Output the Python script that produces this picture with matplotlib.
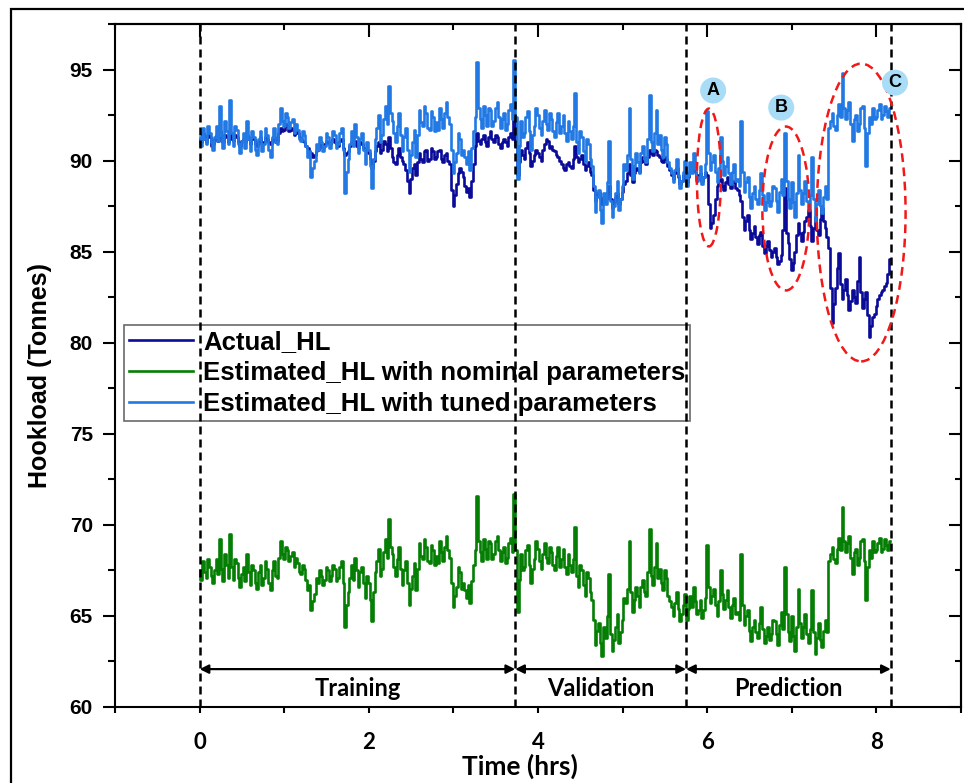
import numpy as np
import matplotlib
matplotlib.use("Agg")
import matplotlib.pyplot as plt
from matplotlib.patches import Ellipse, Rectangle
from matplotlib.ticker import MultipleLocator

# Sampling interval of the hookload records (hours)
SAMPLE_STEP_HRS = 0.02

# Measured hookload (tonnes)
actual_hl = [
    91.2, 91.0, 91.5, 91.2, 91.0, 91.4, 91.3, 90.8, 90.9, 91.2, 91.4, 91.1, 91.6, 91.3, 91.0, 91.4, 91.3, 91.0, 91.5, 91.2,
    91.1, 91.4, 91.3, 91.0, 90.8, 91.1, 91.2, 91.0, 91.4, 91.2, 90.9, 91.3, 91.2, 90.9, 90.8, 91.1, 91.3, 90.9, 91.0, 91.3,
    91.2, 91.0, 90.9, 91.2, 91.3, 91.0, 91.1, 91.5, 91.8, 91.6, 91.7, 92.0, 91.9, 91.6, 91.8, 91.7, 91.4, 91.6, 91.5, 91.3,
    91.2, 91.1, 91.0, 90.8, 90.7, 90.5, 90.4, 90.2, 90.3, 90.5, 90.6, 90.9, 90.8, 90.7, 90.9, 91.1, 91.0, 90.9, 91.1, 91.2,
    91.0, 90.9, 90.8, 91.1, 91.2, 90.7, 90.3, 90.4, 90.5, 90.8, 91.0, 90.9, 91.1, 90.8, 90.7, 91.0, 90.9, 90.7, 90.6, 90.5,
    90.4, 90.1, 89.6, 90.0, 90.5, 90.8, 91.0, 90.4, 90.6, 91.1, 90.9, 90.5, 91.3, 90.7, 90.2, 89.9, 89.8, 90.3, 90.7, 90.2,
    90.0, 89.8, 89.5, 88.9, 88.2, 89.0, 89.6, 89.8, 89.2, 89.9, 90.4, 90.1, 89.9, 90.5, 90.6, 90.0, 90.1, 90.7, 90.5, 90.1,
    90.2, 90.5, 90.6, 90.1, 89.9, 90.3, 90.4, 90.0, 89.8, 88.4, 87.5, 88.1, 88.7, 89.3, 89.6, 89.4, 89.1, 88.6, 88.3, 88.5,
    88.0, 88.9, 89.8, 90.8, 91.5, 91.1, 90.9, 91.2, 91.4, 91.0, 90.8, 91.3, 91.6, 91.2, 91.0, 91.4, 91.3, 90.9, 90.7, 91.0,
    91.2, 91.0, 90.8, 91.3, 91.5, 91.2, 92.5, 90.8, 89.2, 89.9, 90.6, 90.3, 90.1, 90.7, 91.0, 90.4, 89.7, 90.0, 90.3, 90.6,
    90.4, 90.2, 90.0, 90.6, 90.9, 91.2, 91.1, 90.7, 90.8, 90.6, 90.5, 90.3, 90.2, 90.0, 89.8, 89.6, 89.5, 89.8, 89.9, 89.7,
    89.6, 90.1, 90.8, 90.2, 89.9, 90.1, 90.3, 89.8, 89.5, 89.7, 89.9, 89.4, 89.2, 88.4, 87.8, 88.1, 88.3, 87.9, 87.6, 88.0,
    87.9, 88.2, 88.6, 87.9, 87.4, 87.7, 88.0, 88.2, 87.6, 87.9, 88.3, 88.7, 88.9, 89.3, 89.8, 89.2, 88.8, 89.3, 89.6, 89.5,
    89.4, 89.9, 90.2, 90.0, 89.8, 90.2, 90.6, 90.4, 90.3, 90.6, 90.5, 90.3, 90.2, 90.0, 89.9, 90.2, 90.1, 89.7, 89.5, 89.2,
    89.0, 89.3, 89.6, 89.1, 88.7, 88.9, 89.2, 89.0, 88.8, 89.1, 89.4, 89.5, 89.8, 89.4, 89.0, 89.2, 89.3, 88.9, 89.1, 89.4,
    89.2, 87.6, 86.3, 86.6, 87.0, 87.9, 88.6, 88.9, 89.0, 88.6, 88.4, 88.8, 89.1, 88.7, 88.5, 88.8, 88.9, 88.5, 88.4, 88.1,
    87.8, 86.9, 86.2, 86.7, 87.0, 86.2, 85.7, 86.0, 86.4, 85.8, 85.4, 85.9, 86.1, 85.3, 84.9, 85.3, 85.6, 85.1, 84.7, 85.0,
    85.2, 84.7, 84.3, 84.5, 84.8, 86.2, 88.5, 86.0, 85.5, 84.6, 84.0, 84.4, 85.0, 85.9, 86.6, 86.0, 85.6, 86.1, 86.7, 86.9,
    87.3, 86.4, 85.6, 86.3, 86.9, 86.2, 85.9, 86.8, 87.4, 86.7, 86.3, 85.8, 85.2, 83.0, 81.1, 82.1, 83.0, 84.1, 84.9, 83.2,
    82.4, 82.9, 83.5, 82.6, 81.8, 82.3, 82.9, 82.5, 82.2, 83.4, 84.7, 82.8, 81.9, 82.4, 82.8, 81.5, 80.3, 80.9, 81.4, 81.6,
    82.0, 82.4, 82.6, 82.8, 82.9, 83.1, 83.3, 83.8, 84.6,
]

# Model estimate using nominal parameters (tonnes)
estimated_nominal = [
    67.5, 67.0, 68.0, 67.4, 67.1, 68.1, 67.7, 67.2, 66.8, 67.5, 68.1, 67.3, 69.2, 67.6, 66.9, 68.4, 67.8, 67.1, 69.5, 67.7,
    67.0, 68.1, 67.9, 67.1, 66.6, 67.3, 67.7, 66.9, 68.4, 67.4, 66.7, 67.8, 67.5, 66.8, 66.5, 67.4, 67.8, 66.7, 67.1, 68.0,
    67.6, 66.8, 66.4, 67.5, 68.0, 67.2, 67.1, 68.2, 69.1, 68.4, 68.1, 68.8, 68.6, 68.0, 68.3, 68.5, 67.7, 68.2, 67.9, 67.4,
    67.3, 67.8, 67.6, 67.0, 66.4, 66.7, 65.3, 65.8, 66.2, 67.1, 66.8, 67.5, 67.2, 66.7, 67.0, 67.7, 67.5, 66.9, 67.2, 67.8,
    67.6, 66.9, 67.1, 67.7, 68.0, 66.8, 64.4, 65.6, 66.3, 67.1, 67.8, 67.0, 68.2, 67.5, 66.6, 67.4, 67.7, 66.8, 66.0, 67.2,
    66.8, 65.9, 64.7, 66.3, 67.4, 68.0, 68.7, 67.2, 67.6, 68.5, 69.2, 68.2, 70.3, 68.8, 68.4, 67.7, 67.2, 68.1, 68.8, 67.6,
    66.7, 67.5, 68.0, 66.8, 65.6, 66.5, 67.2, 67.9, 66.4, 67.6, 69.0, 68.3, 68.1, 69.2, 68.8, 68.0, 67.9, 68.9, 68.6, 67.8,
    68.3, 67.9, 69.1, 68.5, 68.0, 68.8, 69.4, 68.6, 68.2, 66.8, 65.5, 66.1, 66.6, 67.7, 67.4, 66.5, 66.8, 66.4, 66.0, 66.7,
    65.7, 66.9, 67.8, 68.6, 71.6, 69.1, 68.5, 68.0, 69.2, 68.7, 68.1, 69.1, 69.0, 68.1, 68.4, 69.1, 69.4, 68.6, 68.0, 68.5,
    68.8, 67.9, 68.2, 69.0, 69.3, 68.5, 71.7, 68.6, 65.2, 67.0, 68.4, 67.5, 67.7, 68.6, 68.9, 67.8, 66.8, 67.6, 68.1, 69.1,
    68.7, 68.0, 67.6, 68.4, 69.0, 68.2, 67.9, 68.8, 68.5, 67.8, 67.5, 68.3, 68.8, 67.7, 68.1, 68.7, 67.7, 67.3, 68.4, 67.8,
    67.4, 68.1, 69.9, 67.2, 66.6, 67.8, 67.5, 66.7, 66.1, 67.4, 67.1, 66.3, 65.9, 64.8, 63.4, 64.2, 64.6, 63.5, 62.8, 64.4,
    63.8, 65.0, 67.3, 64.0, 63.1, 63.7, 64.4, 65.1, 63.5, 64.1, 64.8, 66.0, 65.7, 66.5, 69.1, 66.3, 65.2, 65.9, 66.6, 66.1,
    65.5, 66.6, 67.0, 66.3, 66.1, 67.4, 69.8, 67.2, 66.7, 67.7, 69.0, 67.1, 67.6, 66.8, 66.4, 67.5, 67.1, 66.1, 65.8, 65.5,
    65.0, 65.7, 66.3, 65.4, 64.7, 65.1, 65.6, 66.2, 64.8, 65.4, 66.1, 65.5, 66.6, 65.8, 65.1, 65.3, 65.9, 64.9, 65.3, 66.0,
    68.9, 66.6, 65.7, 66.1, 66.5, 65.6, 65.0, 65.8, 67.5, 66.2, 65.4, 65.9, 66.4, 65.5, 64.9, 65.6, 66.0, 65.1, 65.2, 64.8,
    68.4, 65.6, 64.5, 65.0, 65.3, 64.2, 63.6, 64.4, 64.8, 64.1, 63.8, 64.6, 65.5, 64.3, 63.5, 63.9, 64.4, 63.7, 64.0, 64.8,
    64.7, 64.0, 63.4, 64.5, 65.2, 64.3, 67.7, 65.1, 64.1, 63.6, 65.0, 63.9, 63.1, 64.4, 66.5, 64.6, 63.8, 64.4, 65.1, 64.0,
    63.5, 64.3, 66.4, 64.1, 62.9, 63.8, 64.6, 63.7, 63.3, 64.2, 64.8, 64.1, 68.0, 68.4, 68.8, 68.1, 67.9, 68.7, 69.3, 68.6,
    71.0, 69.1, 68.5, 69.0, 69.4, 68.2, 67.3, 68.5, 68.7, 67.8, 68.2, 69.1, 69.2, 68.0, 65.9, 67.7, 68.6, 68.2, 69.1, 68.5,
    68.6, 69.0, 69.3, 68.5, 68.7, 69.2, 68.9, 68.6, 69.1,
]

# Model estimate using tuned parameters (tonnes)
estimated_tuned = [
    91.3, 90.8, 91.8, 91.2, 90.9, 91.9, 91.5, 91.0, 90.6, 91.3, 91.9, 91.1, 93.0, 91.4, 90.7, 92.2, 91.6, 90.9, 93.3, 91.5,
    90.8, 91.9, 91.7, 90.9, 90.4, 91.1, 91.5, 90.7, 92.2, 91.2, 90.5, 91.6, 91.3, 90.6, 90.3, 91.2, 91.6, 90.5, 90.9, 91.8,
    91.4, 90.6, 90.2, 91.3, 91.8, 91.0, 90.9, 92.0, 92.9, 92.2, 91.9, 92.6, 92.4, 91.8, 92.1, 92.3, 91.5, 92.0, 91.7, 91.2,
    91.1, 91.6, 91.4, 90.8, 90.2, 90.5, 89.1, 89.6, 90.0, 90.9, 90.6, 91.3, 91.0, 90.5, 90.8, 91.5, 91.3, 90.7, 91.0, 91.6,
    91.4, 90.7, 90.9, 91.5, 91.8, 90.6, 88.2, 89.4, 90.1, 90.9, 91.6, 90.8, 92.0, 91.3, 90.4, 91.2, 91.5, 90.6, 89.8, 91.0,
    90.6, 89.7, 88.5, 90.1, 91.2, 91.8, 92.5, 91.0, 91.4, 92.3, 93.0, 92.0, 94.1, 92.6, 92.2, 91.5, 91.0, 91.9, 92.6, 91.4,
    90.5, 91.3, 91.8, 90.6, 89.4, 90.3, 91.0, 91.7, 90.2, 91.4, 92.8, 92.1, 91.9, 93.0, 92.6, 91.8, 91.7, 92.7, 92.4, 91.6,
    92.1, 91.7, 92.9, 92.3, 91.8, 92.6, 93.2, 92.4, 92.0, 90.6, 89.3, 89.9, 90.4, 91.5, 91.2, 90.3, 90.6, 90.2, 89.8, 90.5,
    89.5, 90.7, 91.6, 92.4, 95.4, 92.9, 92.3, 91.8, 93.0, 92.5, 91.9, 92.9, 92.8, 91.9, 92.2, 92.9, 93.2, 92.4, 91.8, 92.3,
    92.6, 91.7, 92.0, 92.8, 93.1, 92.3, 95.5, 92.4, 89.0, 90.8, 92.2, 91.3, 91.5, 92.4, 92.7, 91.6, 90.6, 91.4, 91.9, 92.9,
    92.5, 91.8, 91.4, 92.2, 92.8, 92.0, 91.7, 92.6, 92.3, 91.6, 91.3, 92.1, 92.6, 91.5, 91.9, 92.5, 91.5, 91.1, 92.2, 91.6,
    91.2, 91.9, 93.7, 91.0, 90.4, 91.6, 91.3, 90.5, 89.9, 91.2, 90.9, 90.1, 89.7, 88.6, 87.2, 88.0, 88.4, 87.3, 86.6, 88.2,
    87.6, 88.8, 91.1, 87.8, 86.9, 87.5, 88.2, 88.9, 87.3, 87.9, 88.6, 89.8, 89.5, 90.3, 92.9, 90.1, 89.0, 89.7, 90.4, 89.9,
    89.3, 90.4, 90.8, 90.1, 89.9, 91.2, 93.6, 91.0, 90.5, 91.5, 92.8, 90.9, 91.4, 90.6, 90.2, 91.3, 90.9, 89.9, 89.6, 89.3,
    88.8, 89.5, 90.1, 89.2, 88.5, 88.9, 89.4, 90.0, 88.6, 89.2, 89.9, 89.3, 90.4, 89.6, 88.9, 89.1, 89.7, 88.7, 89.1, 89.8,
    92.7, 90.4, 89.5, 89.9, 90.3, 89.4, 88.8, 89.6, 91.3, 90.0, 89.2, 89.7, 90.2, 89.3, 88.7, 89.4, 89.8, 88.9, 89.0, 88.6,
    92.2, 89.4, 88.3, 88.8, 89.1, 88.0, 87.4, 88.2, 88.6, 87.9, 87.6, 88.4, 89.3, 88.1, 87.3, 87.7, 88.2, 87.5, 87.8, 88.6,
    88.5, 87.8, 87.2, 88.3, 89.0, 88.1, 91.5, 88.9, 87.9, 87.4, 88.8, 87.7, 86.9, 88.2, 90.3, 88.4, 87.6, 88.2, 88.9, 87.8,
    87.3, 88.1, 90.2, 87.9, 86.7, 87.6, 88.4, 87.5, 87.1, 88.0, 88.6, 87.9, 91.8, 92.2, 92.6, 91.9, 91.7, 92.5, 93.1, 92.4,
    94.8, 92.9, 92.3, 92.8, 93.2, 92.0, 91.1, 92.3, 92.5, 91.6, 92.0, 92.9, 93.0, 91.8, 89.7, 91.5, 92.4, 92.0, 92.9, 92.3,
    92.4, 92.8, 93.1, 92.3, 92.5, 93.0, 92.7, 92.4, 92.9,
]

# Boundaries of the training / validation / prediction windows (hours)
phase_bounds = [0.0, 3.73, 5.75, 8.17]
phase_names = ["Training", "Validation", "Prediction"]

series_labels = [
    "Actual_HL",
    "Estimated_HL with nominal parameters",
    "Estimated_HL with tuned parameters",
]

time_hrs = np.arange(len(estimated_tuned)) * SAMPLE_STEP_HRS

plt.rcParams["font.family"] = ["Liberation Sans", "DejaVu Sans"]
plt.rcParams["font.weight"] = "bold"

W_PX, H_PX = 964, 783
fig = plt.figure(figsize=(W_PX / 100, H_PX / 100), dpi=100)
ax_l, ax_r, ax_t, ax_b = 115, 961, 24, 707
ax = fig.add_axes([ax_l / W_PX, 1 - ax_b / H_PX,
                   (ax_r - ax_l) / W_PX, (ax_b - ax_t) / H_PX])

# outer frame around the figure
fig.add_artist(Rectangle((11 / W_PX, -0.05), 1.2, 1 - 9 / H_PX + 0.05,
                         transform=fig.transFigure, fill=False,
                         lw=1.6, ec="black"))

c_actual = "#0b0b99"
c_nominal = "#047f04"
c_tuned = "#2279e4"

ax.plot(time_hrs, actual_hl, color=c_actual, lw=1.9,
        drawstyle="steps-mid", label=series_labels[0], zorder=2)
ax.plot(time_hrs, estimated_nominal, color=c_nominal, lw=1.9,
        drawstyle="steps-mid", label=series_labels[1], zorder=2)
ax.plot(time_hrs, estimated_tuned, color=c_tuned, lw=1.9,
        drawstyle="steps-mid", label=series_labels[2], zorder=3)

ax.set_xlim(-1, 9)
ax.set_ylim(60, 97.5)

# phase separators
for xb in phase_bounds:
    ax.axvline(xb, color="black", lw=1.8, dashes=(3.2, 2.0), zorder=6)

# phase arrows and names
arrow_y = 62.08
label_y = 61.04
for i, name in enumerate(phase_names):
    a, b = phase_bounds[i], phase_bounds[i + 1]
    ax.annotate("", xy=(b, arrow_y), xytext=(a, arrow_y),
                arrowprops=dict(arrowstyle="<|-|>", color="black", lw=1.6,
                                mutation_scale=13, shrinkA=0, shrinkB=0),
                zorder=6)
    ax.text((a + b) / 2, label_y, name, ha="center", va="center",
            fontfamily="Lato", fontweight="bold", fontsize=17, zorder=6)

# highlighted deviations
for (cx, cy), w, h in [((6.02, 89.07), 0.284, 7.57),
                       ((6.93, 87.37), 0.556, 9.0),
                       ((7.82, 87.15), 1.05, 16.35)]:
    ax.add_patch(Ellipse((cx, cy), w, h, fill=False, ec="#f21818",
                         lw=1.8, linestyle=(0, (3.5, 2.2)), zorder=7))

for (bx, by), letter in [((6.07, 93.85), "A"), ((6.875, 92.91), "B"),
                         ((8.22, 94.28), "C")]:
    ax.text(bx, by, letter, ha="center", va="center", fontsize=13,
            fontweight="bold", zorder=8,
            bbox=dict(boxstyle="circle,pad=0.25", fc="#a9dcf6", ec="none"))

# ticks
ax.xaxis.set_major_locator(MultipleLocator(2))
ax.xaxis.set_minor_locator(MultipleLocator(1))
ax.yaxis.set_major_locator(MultipleLocator(5))
ax.yaxis.set_minor_locator(MultipleLocator(2.5))
ax.tick_params(axis="x", which="both", direction="out", length=4, width=1.5,
               top=False, pad=14, labelsize=16, labelfontfamily="Lato")
ax.tick_params(axis="y", which="major", direction="out", length=9, width=1.5,
               right=False, pad=7, labelsize=15)
ax.tick_params(axis="y", which="minor", direction="out", length=5, width=1.5,
               right=False)
for lbl in ax.get_xticklabels() + ax.get_yticklabels():
    lbl.set_fontweight("bold")

secx = ax.secondary_xaxis("top")
secx.xaxis.set_major_locator(MultipleLocator(2))
secx.xaxis.set_minor_locator(MultipleLocator(1))
secx.tick_params(which="major", direction="in", length=9, width=1.5,
                 labeltop=False)
secx.tick_params(which="minor", direction="in", length=4.5, width=1.5)
secy = ax.secondary_yaxis("right")
secy.yaxis.set_major_locator(MultipleLocator(5))
secy.yaxis.set_minor_locator(MultipleLocator(2.5))
secy.tick_params(which="major", direction="in", length=9, width=1.5,
                 labelright=False)
secy.tick_params(which="minor", direction="in", length=4.5, width=1.5)

for sp in list(ax.spines.values()) + list(secx.spines.values()) + \
        list(secy.spines.values()):
    sp.set_linewidth(1.5)

fig.text(520 / W_PX, 1 - 766 / H_PX, "Time (hrs)", ha="center", va="center",
         fontfamily="Lato", fontweight="bold", fontsize=19)
fig.text(40 / W_PX, 1 - 375 / H_PX, "Hookload (Tonnes)", ha="center",
         va="center", rotation=90, fontweight="bold", fontsize=18)

leg = ax.legend(loc="upper left", bbox_to_anchor=(124 / W_PX, 1 - 325 / H_PX),
                bbox_transform=fig.transFigure,
                prop=dict(family="Liberation Sans", weight="bold", size=18.5),
                frameon=True, fancybox=False, edgecolor="#444444",
                facecolor="none", borderpad=0.18, handlelength=2.5,
                handletextpad=0.4, labelspacing=0.28, borderaxespad=0)
leg.get_frame().set_linewidth(1.2)
leg.set_zorder(5)

fig.savefig("out.png", dpi=100)
